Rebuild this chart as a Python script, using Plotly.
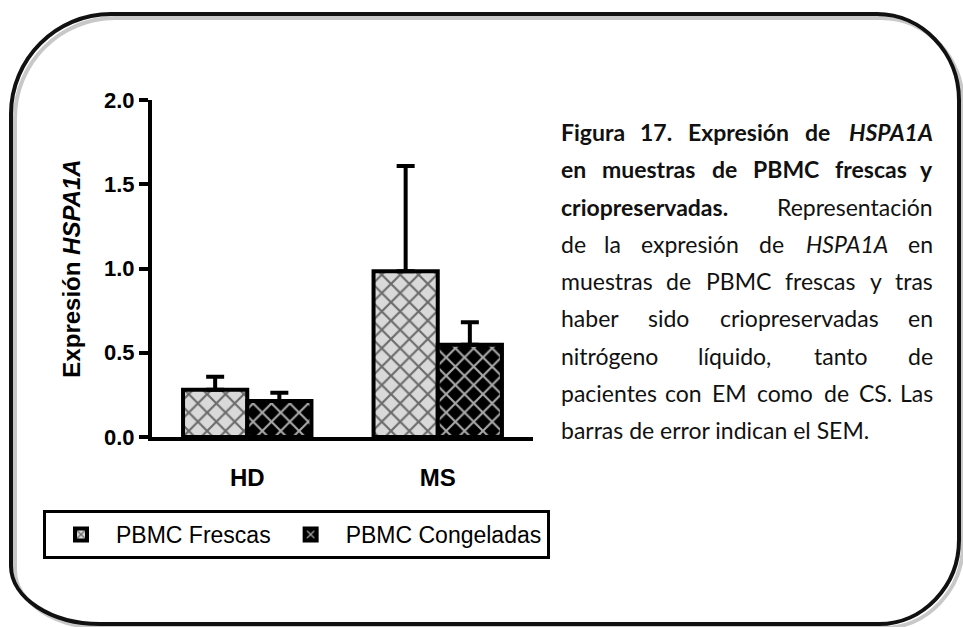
import re
import plotly.graph_objects as go

# ---------------- data ----------------
categories = ["HD", "MS"]
series_names = ["PBMC Frescas", "PBMC Congeladas"]
frescas = [0.28, 0.983]
frescas_sem = [0.078, 0.625]
congeladas = [0.214, 0.548]
congeladas_sem = [0.049, 0.133]
y_ticks = [0.0, 0.5, 1.0, 1.5, 2.0]
y_tick_labels = ["0.0", "0.5", "1.0", "1.5", "2.0"]

# caption text (word lists per line, justified like the original)
caption_lines = [
    ["<b>Figura</b>", "<b>17.</b>", "<b>Expresión</b>", "<b>de</b>", "<b><i>HSPA1A</i></b>"],
    ["<b>en</b>", "<b>muestras</b>", "<b>de</b>", "<b>PBMC</b>", "<b>frescas</b>", "<b>y</b>"],
    ["<b>criopreservadas.</b>", "Representación"],
    ["de", "la", "expresión", "de", "<i>HSPA1A</i>", "en"],
    ["muestras", "de", "PBMC", "frescas", "y", "tras"],
    ["haber", "sido", "criopreservadas", "en"],
    ["nitrógeno", "líquido,", "tanto", "de"],
    ["pacientes", "con", "EM", "como", "de", "CS.", "Las"],
    ["barras de error indican el SEM."],
]
caption_justify = [True, True, True, True, True, True, True, True, False]

W, H = 963, 627
AX = "Liberation Sans, Arial, sans-serif"
CAP = "Lato, Carlito, Calibri, sans-serif"
CAP_SIZE = 23
CAP_LEFT, CAP_RIGHT = 559, 935

# rough advance widths (em) used only to justify caption lines
_CW = {
    'a': .51, 'b': .56, 'c': .46, 'd': .56, 'e': .52, 'f': .32, 'g': .50, 'h': .56,
    'i': .24, 'j': .24, 'k': .50, 'l': .24, 'm': .84, 'n': .56, 'o': .56, 'p': .56,
    'q': .56, 'r': .36, 's': .42, 't': .35, 'u': .56, 'v': .50, 'w': .76, 'x': .49,
    'y': .50, 'z': .45, 'á': .51, 'é': .52, 'í': .24, 'ó': .56, 'ú': .56,
    'A': .66, 'B': .63, 'C': .66, 'E': .56, 'F': .54, 'H': .74, 'M': .88, 'P': .59,
    'R': .62, 'S': .52, 'L': .46, 'D': .72, '1': .58, '7': .58, '.': .23, ',': .23,
}


def word_width(w):
    bold = "<b>" in w
    t = re.sub(r"<[^>]+>", "", w)
    em = sum(_CW.get(ch, .55) for ch in t)
    return em * CAP_SIZE * (1.04 if bold else 1.0)


def px(x):
    return x / W


def py(y):
    return 1 - y / H


def P(x, y):
    return f"{px(x):.5f},{py(y):.5f}"


def frame_path(dx=0, dy=0):
    k = 0.55
    L, T, R, B = 11 + dx, 14 + dy, 959 + dx, 624 + dy
    rtl = 100
    rtr_x, rtr_y = 82, 86
    rbr_x, rbr_y = 80, 84
    rbl_x, rbl_y = 89, 58
    p = []
    p.append("M" + P(L + rtl, T))
    p.append("L" + P(R - rtr_x, T))
    p.append("C" + P(R - rtr_x + k * rtr_x, T) + " " + P(R, T + rtr_y - k * rtr_y) + " " + P(R, T + rtr_y))
    p.append("L" + P(R, B - rbr_y))
    p.append("C" + P(R, B - rbr_y + k * rbr_y) + " " + P(R - rbr_x + k * rbr_x, B) + " " + P(R - rbr_x, B))
    p.append("L" + P(L + rbl_x, B))
    p.append("C" + P(L + rbl_x - k * rbl_x, B) + " " + P(L, B - rbl_y + k * rbl_y) + " " + P(L, B - rbl_y))
    p.append("L" + P(L, T + rtl))
    p.append("C" + P(L, T + rtl - k * rtl) + " " + P(L + rtl - k * rtl, T) + " " + P(L + rtl, T))
    p.append("Z")
    return " ".join(p)


fig = go.Figure()

fig.add_trace(go.Bar(
    name=series_names[0], x=categories, y=frescas,
    width=0.337, offset=-0.337,
    marker=dict(
        color="#d9d9d9",
        line=dict(color="black", width=4),
        pattern=dict(shape="x", bgcolor="#d9d9d9", fgcolor="#6b6b6b",
                     size=13, solidity=0.3, fillmode="replace"),
    ),
    error_y=dict(type="data", array=frescas_sem, arrayminus=[0] * len(frescas_sem),
                 symmetric=False, color="black", thickness=4, width=9),
))
fig.add_trace(go.Bar(
    name=series_names[1], x=categories, y=congeladas,
    width=0.337, offset=0,
    marker=dict(
        color="black",
        line=dict(color="black", width=4),
        pattern=dict(shape="x", bgcolor="black", fgcolor="#a8a8a8",
                     size=13, solidity=0.3, fillmode="replace"),
    ),
    error_y=dict(type="data", array=congeladas_sem, arrayminus=[0] * len(congeladas_sem),
                 symmetric=False, color="black", thickness=4, width=9),
))

shapes = [
    dict(type="path", xref="paper", yref="paper", path=frame_path(4, 4),
         line=dict(color="#c8c8c8", width=4), layer="below"),
    dict(type="path", xref="paper", yref="paper", path=frame_path(0, 0),
         line=dict(color="#111111", width=4), layer="below"),
]

annotations = []
for i, words in enumerate(caption_lines):
    yy = 132 + 37.25 * i
    font = dict(family=CAP, size=CAP_SIZE, color="#111111")
    if not caption_justify[i] or len(words) == 1:
        annotations.append(dict(text=" ".join(words), xref="paper", yref="paper",
                                x=px(CAP_LEFT), y=py(yy), xanchor="left", yanchor="middle",
                                showarrow=False, font=font))
        continue
    widths = [word_width(w) for w in words]
    gap = (CAP_RIGHT - CAP_LEFT - sum(widths)) / (len(words) - 1)
    x = CAP_LEFT
    for j, w in enumerate(words):
        if j == len(words) - 1:
            annotations.append(dict(text=w, xref="paper", yref="paper",
                                    x=px(CAP_RIGHT), y=py(yy), xanchor="right", yanchor="middle",
                                    showarrow=False, font=font))
        else:
            cx = x + widths[j] / 2
            annotations.append(dict(text=w, xref="paper", yref="paper",
                                    x=px(x if j == 0 else cx), y=py(yy),
                                    xanchor="left" if j == 0 else "center", yanchor="middle",
                                    showarrow=False, font=font))
        x += widths[j] + gap

fig.update_layout(
    width=W, height=H,
    margin=dict(l=0, r=0, t=0, b=0, autoexpand=False),
    paper_bgcolor="white", plot_bgcolor="white",
    barmode="overlay",
    showlegend=True,
    legend=dict(
        orientation="h", x=px(43), y=py(510), xanchor="left", yanchor="top",
        bordercolor="black", borderwidth=3, bgcolor="white",
        font=dict(family=AX, size=23, color="black"),
        itemwidth=60, traceorder="normal",
    ),
    xaxis=dict(
        domain=[px(152), px(533)], range=[-0.5, 1.5], automargin=False,
        type="category", showline=True, linecolor="black", linewidth=4,
        ticks="", showgrid=False, zeroline=False,
        tickfont=dict(family=AX, size=24, color="black", weight="bold"),
        ticklabelstandoff=16,
    ),
    yaxis=dict(
        domain=[py(437), py(100)], range=[0, 2], automargin=False,
        tickvals=y_ticks, ticktext=y_tick_labels,
        showline=True, linecolor="black", linewidth=4,
        ticks="outside", ticklen=9, tickwidth=4, tickcolor="black",
        showgrid=False, zeroline=False,
        tickfont=dict(family=AX, size=22, color="black", weight="bold"),
        title=dict(text="Expresión <i>HSPA1A</i>", standoff=18,
                   font=dict(family=AX, size=24, color="black", weight="bold")),
    ),
    shapes=shapes,
    annotations=annotations,
)

fig.write_html("out.html", config={"displayModeBar": False},
               post_script="document.body.style.margin='0';document.body.style.overflow='hidden';")
